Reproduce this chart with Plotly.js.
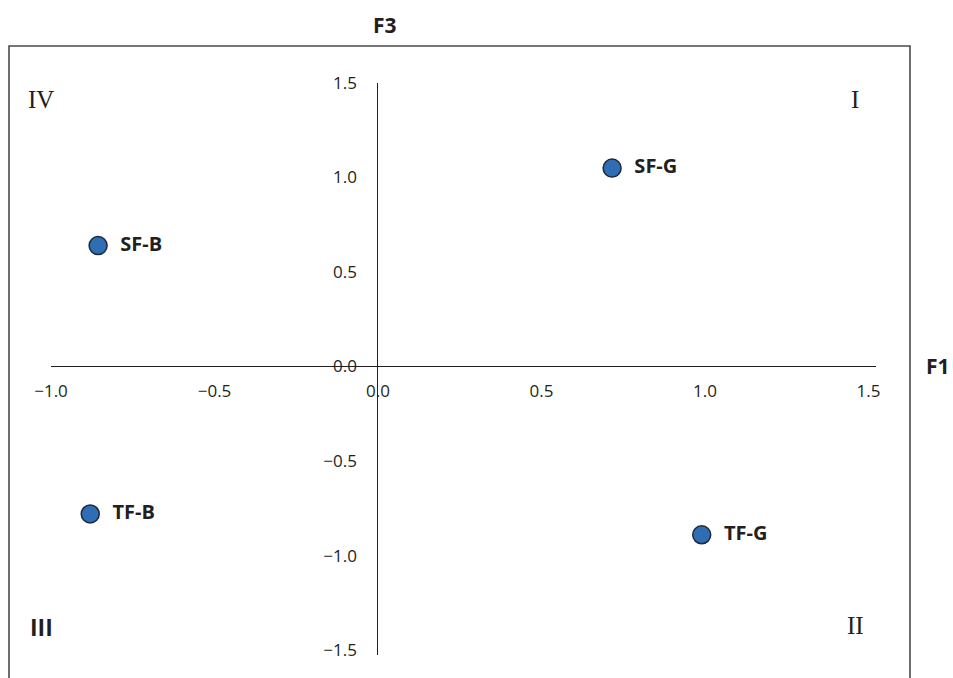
<!DOCTYPE html>
<html>
<head>
<meta charset="utf-8">
<script src="https://cdn.plot.ly/plotly-3.0.1.min.js"></script>
<style>html,body{margin:0;padding:0;background:#fff;}#chart{width:953px;height:678px;}</style>
</head>
<body>
<div id="chart"></div>
<script>
// Data
const labels = ["SF-G", "SF-B", "TF-B", "TF-G"];
const f1Values = [0.716, -0.856, -0.88, 0.99];
const f3Values = [1.05, 0.64, -0.78, -0.89];
const xTicks = [-1.0, -0.5, 0.0, 0.5, 1.0, 1.5];
const yTicks = [-1.5, -1.0, -0.5, 0.0, 0.5, 1.0, 1.5];
const quadrantNames = ["I", "II", "III", "IV"];

const xRange = [-1.0, 1.523];
const yRange = [-1.526, 1.5];
const xZeroPos = (0 - xRange[0]) / (xRange[1] - xRange[0]);
const yZeroPos = (0 - yRange[0]) / (yRange[1] - yRange[0]);

const fmt = v => (v < 0 ? "\u2212" : "") + Math.abs(v).toFixed(1);

const trace = {
  type: "scatter",
  mode: "markers+text",
  x: f1Values,
  y: f3Values,
  text: labels,
  texttemplate: "\u2002%{text}",
  textposition: "middle right",
  textfont: {family: "Open Sans, sans-serif", size: 20, color: "#231f20", weight: 700},
  marker: {size: 18, color: "#2f6db5", line: {color: "#1d2a38", width: 1.5}},
  cliponaxis: false,
  hoverinfo: "skip"
};

const tickFont = {family: "Open Sans, sans-serif", size: 17, color: "#231f20"};

const px = v => (v - 51) / 825;   // page x -> paper x
const py = v => (655 - v) / 572;  // page y -> paper y

const ann = (text, x, y, font) => ({
  text: text, xref: "paper", yref: "paper", x: px(x), y: py(y),
  xanchor: "center", yanchor: "middle", showarrow: false, font: font
});

const boldSans = size => ({family: "Open Sans, sans-serif", size: size, color: "#231f20", weight: 700});
const serif = size => ({family: "Liberation Serif, serif", size: size, color: "#231f20"});

const layout = {
  width: 953,
  height: 678,
  margin: {l: 51, r: 77, t: 83, b: 23},
  paper_bgcolor: "#ffffff",
  plot_bgcolor: "#ffffff",
  showlegend: false,
  xaxis: {
    range: xRange,
    anchor: "free",
    position: yZeroPos,
    showgrid: false,
    showline: false,
    zeroline: true,
    zerolinecolor: "#231f20",
    zerolinewidth: 1,
    tickmode: "array",
    tickvals: xTicks,
    ticktext: xTicks.map(fmt),
    ticks: "",
    ticklabelstandoff: 12,
    tickfont: tickFont
  },
  yaxis: {
    range: yRange,
    anchor: "free",
    position: xZeroPos,
    showgrid: false,
    showline: false,
    zeroline: true,
    zerolinecolor: "#231f20",
    zerolinewidth: 1,
    tickmode: "array",
    tickvals: yTicks,
    ticktext: yTicks.map(fmt),
    ticks: "",
    ticklabelstandoff: 21,
    tickfont: tickFont
  },
  shapes: [{
    type: "rect", xref: "paper", yref: "paper",
    x0: px(9), x1: px(910), y0: py(700), y1: py(46),
    line: {color: "#4a4a4a", width: 1.6}, fillcolor: "rgba(0,0,0,0)", layer: "below"
  }],
  annotations: [
    ann("F3", 385, 25, boldSans(21)),
    ann("F1", 938, 366, boldSans(21)),
    ann(quadrantNames[0], 855, 100, serif(25)),
    ann(quadrantNames[1], 855, 625, serif(25)),
    ann(quadrantNames[2], 41, 627, boldSans(23)),
    ann(quadrantNames[3], 41, 100, serif(25))
  ]
};

Plotly.newPlot("chart", [trace], layout, {displayModeBar: false, staticPlot: true});
</script>
</body>
</html>
